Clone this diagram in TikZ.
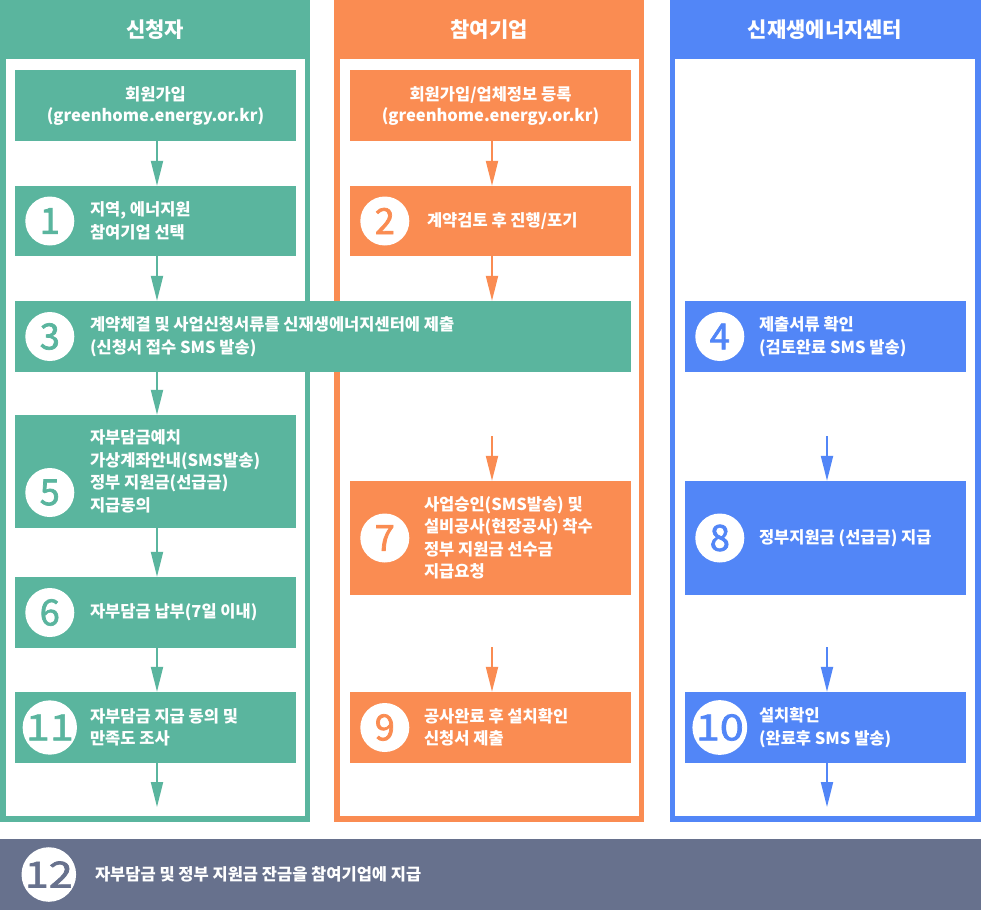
\documentclass[tikz,border=0pt]{standalone}
\usepackage{fontspec}
\setmainfont{Noto Sans CJK KR}
\newfontfamily\numfont{Noto Sans CJK KR}[FakeBold=2]
\newfontfamily\numwide{Noto Sans CJK KR}[FakeBold=2,FakeStretch=1.2]
\usetikzlibrary{arrows.meta}
\definecolor{grn}{HTML}{5AB59E}
\definecolor{org}{HTML}{FA8C52}
\definecolor{blu}{HTML}{5286F7}
\definecolor{slt}{HTML}{67718D}
\tikzset{
  stepbox/.style={fill=#1, draw=none, inner sep=0pt, minimum width=281pt},
  numcirc/.style={circle, fill=white, minimum size=49pt, inner sep=0pt, text=#1, font=\numfont\fontsize{36}{36}\selectfont},
  widecirc/.style={numcirc=#1, font=\numwide\fontsize{36}{36}\selectfont},
  steptext/.style={anchor=west, align=left, inner sep=0pt, text=white, font=\bfseries\fontsize{16.5}{22.5}\selectfont},
  toptext/.style={align=center, inner sep=0pt, text=white, font=\bfseries\fontsize{16.5}{21}\selectfont},
  headtext/.style={inner sep=0pt, text=white, font=\bfseries\fontsize{21}{24}\selectfont},
  flowarr/.style={draw=#1, line width=2pt, -{Triangle[width=12pt,length=25pt]}},
}
\begin{document}
\begin{tikzpicture}[x=1pt,y=-1pt]
\useasboundingbox (0,0) rectangle (981,910);
% columns
\fill[grn] (0,0) rectangle (310,822);
\fill[white] (6,59) rectangle (305,816);
\fill[org] (334,0) rectangle (644,822);
\fill[white] (340,59) rectangle (639,816);
\fill[blu] (670,0) rectangle (981,822);
\fill[white] (675,59) rectangle (975,816);
\node[headtext] (h1) at (155,30) {신청자};
\node[headtext] (h2) at (489,30) {참여기업};
\node[headtext] (h3) at (825,30) {신재생에너지센터};
% green boxes
\node[stepbox=grn, minimum height=71pt] (g0) at (155.5,105.5) {};
\node[toptext] (g0t) at (g0.center) {회원가입\\(greenhome.energy.or.kr)};
\node[stepbox=grn, minimum height=70pt] (g1) at (155.5,221) {};
\node[stepbox=grn, minimum width=616pt, minimum height=71pt] (g3) at (323,336.5) {};
\node[stepbox=grn, minimum height=113pt] (g5) at (155.5,471.5) {};
\node[stepbox=grn, minimum height=71pt] (g6) at (155.5,612.5) {};
\node[stepbox=grn, minimum height=71pt] (g11) at (155.5,727.5) {};
% orange boxes
\node[stepbox=org, minimum height=71pt] (o0) at (490.5,105.5) {};
\node[toptext] (o0t) at (o0.center) {회원가입/업체정보 등록\\(greenhome.energy.or.kr)};
\node[stepbox=org, minimum height=70pt] (o2) at (490.5,221) {};
\node[stepbox=org, minimum height=114pt] (o7) at (490.5,538) {};
\node[stepbox=org, minimum height=71pt] (o9) at (490.5,727.5) {};
% blue boxes
\node[stepbox=blu, minimum height=71pt] (b4) at (825.5,336.5) {};
\node[stepbox=blu, minimum height=114pt] (b8) at (825.5,538) {};
\node[stepbox=blu, minimum height=71pt] (b10) at (825.5,727.5) {};
% bottom bar
\node[fill=slt, inner sep=0pt, minimum width=981pt, minimum height=71pt] (bar) at (490.5,874.5) {};
% circles and texts
\node[numcirc=grn] (n1) at ([xshift=35pt]g1.west) {1};
\node[steptext] (t1) at ([xshift=75pt]g1.west) {지역, 에너지원\\참여기업 선택};
\node[numcirc=org] (n2) at ([xshift=35pt]o2.west) {2};
\node[steptext] (t2) at ([xshift=77pt]o2.west) {계약검토 후 진행/포기};
\node[numcirc=grn] (n3) at ([xshift=35pt]g3.west) {3};
\node[steptext] (t3) at ([xshift=75pt]g3.west) {계약체결 및 사업신청서류를 신재생에너지센터에 제출\\(신청서 접수 SMS 발송)};
\node[numcirc=blu] (n4) at ([xshift=35pt]b4.west) {4};
\node[steptext] (t4) at ([xshift=74pt]b4.west) {제출서류 확인\\(검토완료 SMS 발송)};
\node[numcirc=grn] (n5) at ([xshift=35pt,yshift=-21pt]g5.west) {5};
\node[steptext] (t5) at ([xshift=75pt]g5.west) {자부담금예치\\가상계좌안내(SMS발송)\\정부 지원금(선급금)\\지급동의};
\node[numcirc=grn] (n6) at ([xshift=35pt]g6.west) {6};
\node[steptext] (t6) at ([xshift=75pt]g6.west) {자부담금 납부(7일 이내)};
\node[numcirc=org] (n7) at ([xshift=35pt]o7.west) {7};
\node[steptext] (t7) at ([xshift=74pt]o7.west) {사업승인(SMS발송) 및\\설비공사(현장공사) 착수\\정부 지원금 선수금\\지급요청};
\node[numcirc=blu] (n8) at ([xshift=35pt]b8.west) {8};
\node[steptext] (t8) at ([xshift=74pt]b8.west) {정부지원금 (선급금) 지급};
\node[numcirc=org] (n9) at ([xshift=35pt]o9.west) {9};
\node[steptext] (t9) at ([xshift=74pt]o9.west) {공사완료 후 설치확인\\신청서 제출};
\node[widecirc=blu] (n10) at ([xshift=35pt]b10.west) {10};
\node[steptext] (t10) at ([xshift=74pt]b10.west) {설치확인\\(완료후 SMS 발송)};
\node[widecirc=grn] (n11) at ([xshift=35pt]g11.west) {11};
\node[steptext] (t11) at ([xshift=75pt]g11.west) {자부담금 지급 동의 및\\만족도 조사};
\node[widecirc=slt] (n12) at ([xshift=49pt]bar.west) {12};
\node[steptext] (t12) at ([xshift=95pt]bar.west) {자부담금 및 정부 지원금 잔금을 참여기업에 지급};
% free arrow ends
\coordinate (oa1) at (492,436);
\coordinate (ba1) at (827,436);
\coordinate (oa2) at (492,647);
\coordinate (ba2) at (827,647);
\coordinate (ge) at (157,807);
\coordinate (be) at (827,807);
% arrows
\draw[flowarr=grn] ([xshift=1.5pt]g0.south) -- ([xshift=1.5pt]g1.north);
\draw[flowarr=grn] ([xshift=1.5pt]g1.south) -- ([xshift=1.5pt]g1.south |- g3.north);
\draw[flowarr=grn] ([xshift=1.5pt]g1.south |- g3.south) -- ([xshift=1.5pt]g5.north);
\draw[flowarr=grn] ([xshift=1.5pt]g5.south) -- ([xshift=1.5pt]g6.north);
\draw[flowarr=grn] ([xshift=1.5pt]g6.south) -- ([xshift=1.5pt]g11.north);
\draw[flowarr=grn] ([xshift=1.5pt]g11.south) -- (ge);
\draw[flowarr=org] ([xshift=1.5pt]o0.south) -- ([xshift=1.5pt]o2.north);
\draw[flowarr=org] ([xshift=1.5pt]o2.south) -- ([xshift=1.5pt]o2.south |- g3.north);
\draw[flowarr=org] (oa1) -- (oa1 |- o7.north);
\draw[flowarr=org] (oa2) -- (oa2 |- o9.north);
\draw[flowarr=blu] (ba1) -- (ba1 |- b8.north);
\draw[flowarr=blu] (ba2) -- (ba2 |- b10.north);
\draw[flowarr=blu] ([xshift=1.5pt]b10.south) -- (be);
\end{tikzpicture}
\end{document}
